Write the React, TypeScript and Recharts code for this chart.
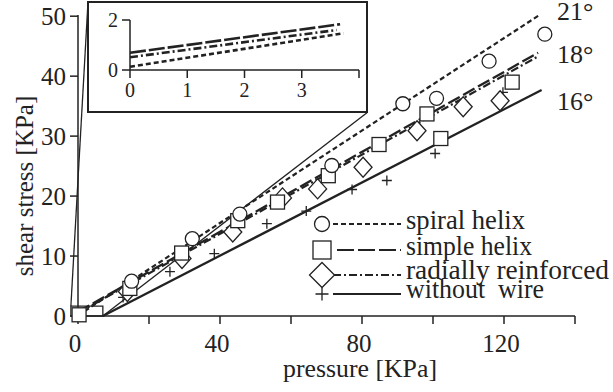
import {
  ComposedChart,
  Line,
  Scatter,
  XAxis,
  YAxis,
  ReferenceLine,
  ReferenceArea,
} from 'recharts';

const INK = '#222';
const FONT = '"Liberation Serif", "Times New Roman", serif';

// measured points
const spiralX = [15.1, 32.2, 45.6, 71.5, 91.5, 101.0, 115.8, 131.5];
const spiralY = [5.8, 12.9, 17.0, 25.1, 35.4, 36.3, 42.5, 47.0];
const simpleX = [0.3, 14.6, 29.2, 45.0, 56.2, 70.5, 84.8, 98.3, 102.2, 122.3];
const simpleY = [0.2, 4.6, 10.5, 15.9, 19.0, 23.4, 28.6, 33.7, 29.6, 39.0];
const radialX = [13.9, 29.3, 43.6, 57.6, 67.5, 80.3, 95.5, 108.5, 118.9];
const radialY = [4.1, 9.6, 14.0, 19.7, 21.2, 24.8, 30.9, 34.9, 35.9];
const plainX = [12.7, 25.9, 38.4, 53.2, 64.3, 77.2, 87.0, 100.6, 119.7];
const plainY = [3.1, 7.4, 10.4, 15.4, 17.5, 21.1, 22.6, 27.1, 37.3];

// fitted lines (end points)
const spiralFitX = [0, 130];
const spiralFitY = [0.1, 50.2];
const simpleFitX = [0, 129.6];
const simpleFitY = [0.7, 43.9];
const radialFitX = [0, 129.3];
const radialFitY = [0.5, 43.2];
const plainFitX = [7, 130.6];
const plainFitY = [0, 37.7];

// inset (zoom near origin)
const insetSpiralX = [0, 3.73];
const insetSpiralY = [0.13, 1.47];
const insetSimpleX = [0, 3.67];
const insetSimpleY = [0.69, 1.83];
const insetRadialX = [0, 3.61];
const insetRadialY = [0.51, 1.6];

const xTicks = [0, 20, 40, 60, 80, 100, 120, 140];
const yTicks = [0, 10, 20, 30, 40, 50];
const insetXTicks = [0, 1, 2, 3, 4];
const insetYTicks = [0, 1, 2];

const angleLabels = ['21°', '18°', '16°'];
const legendNames = ['spiral helix', 'simple helix', 'radially reinforced', 'without  wire'];

const pts = (xs: number[], ys: number[]) => xs.map((x, i) => ({ x, y: ys[i] }));

const DASH = {
  spiral: '5 3',
  simple: '13 4',
  radial: '8 3 2 3',
  plain: undefined as string | undefined,
};

const circleShape = (p: any) => (
  <circle cx={p.cx} cy={p.cy} r={7} fill="#fff" stroke={INK} strokeWidth={1.3} />
);
const squareShape = (p: any) => (
  <rect x={p.cx - 7} y={p.cy - 7} width={14} height={14} fill="#fff" stroke={INK} strokeWidth={1.3} />
);
const diamondShape = (p: any) => (
  <path
    d={`M${p.cx},${p.cy - 10}L${p.cx + 9},${p.cy}L${p.cx},${p.cy + 10}L${p.cx - 9},${p.cy}Z`}
    fill="#fff"
    stroke={INK}
    strokeWidth={1.3}
  />
);
const plusShape = (p: any) => (
  <path
    d={`M${p.cx - 5},${p.cy}H${p.cx + 5}M${p.cx},${p.cy - 5}V${p.cy + 5}`}
    stroke={INK}
    strokeWidth={1.3}
  />
);

const axisProps = {
  stroke: INK,
  axisLine: { stroke: INK, strokeWidth: 1.5 },
  tickLine: { stroke: INK, strokeWidth: 1.5 },
};

function Inset() {
  const tick = { fontSize: 20, fontFamily: FONT, fill: INK };
  return (
    <div
      style={{
        position: 'absolute',
        left: 87,
        top: 1,
        width: 281,
        height: 112,
        border: `2px solid ${INK}`,
        background: '#fff',
        boxSizing: 'border-box',
      }}
    >
      <ComposedChart width={277} height={108} margin={{ top: 17, right: 7, bottom: 0, left: 0 }}>
        <XAxis
          type="number"
          dataKey="x"
          domain={[0, 4]}
          ticks={insetXTicks}
          tickFormatter={(v: number) => (v < 4 ? String(v) : '')}
          height={41}
          tickSize={8}
          tickMargin={5}
          tick={tick}
          {...axisProps}
        />
        <YAxis
          type="number"
          dataKey="y"
          domain={[0, 2]}
          ticks={insetYTicks}
          width={41}
          tickSize={8}
          tickMargin={4}
          tick={tick}
          {...axisProps}
        />
        <Line data={pts(insetSimpleX, insetSimpleY)} dataKey="y" type="linear" stroke={INK} strokeWidth={2.6} strokeDasharray="16 3" dot={false} isAnimationActive={false} />
        <Line data={pts(insetRadialX, insetRadialY)} dataKey="y" type="linear" stroke={INK} strokeWidth={2.6} strokeDasharray={DASH.radial} dot={false} isAnimationActive={false} />
        <Line data={pts(insetSpiralX, insetSpiralY)} dataKey="y" type="linear" stroke={INK} strokeWidth={2.6} strokeDasharray={DASH.spiral} dot={false} isAnimationActive={false} />
      </ComposedChart>
    </div>
  );
}

function Overlay() {
  const rows = [224, 250, 275, 294];
  const baselines = [229, 254.5, 279, 298];
  const widths = [119, 126, 203, 138];
  const markers = [
    <circle key="c" cx={322} cy={rows[0]} r={7.5} fill="#fff" stroke={INK} strokeWidth={1.3} />,
    <rect key="s" x={313} y={rows[1] - 9} width={18} height={18} fill="#fff" stroke={INK} strokeWidth={1.3} />,
    <path key="d" d={`M322,${rows[2] - 12.5}L334.5,${rows[2]}L322,${rows[2] + 12.5}L309.5,${rows[2]}Z`} fill="#fff" stroke={INK} strokeWidth={1.3} />,
    <path key="p" d={`M315.5,${rows[3]}H328.5M322,${rows[3] - 6.5}V${rows[3] + 6.5}`} stroke={INK} strokeWidth={1.3} />,
  ];
  const dashes = [DASH.spiral, '17 4', DASH.radial, DASH.plain];
  return (
    <svg width={613} height={392} style={{ position: 'absolute', left: 0, top: 0, pointerEvents: 'none' }}>
      <g fontFamily={FONT} fontSize={25} fill={INK}>
        <text x={33} y={186} textAnchor="middle" transform="rotate(-90 33 186)">
          shear stress [KPa]
        </text>
        <text x={283} y={377} textLength={154} lengthAdjust="spacingAndGlyphs">
          pressure [KPa]
        </text>
        {angleLabels.map((t, i) => (
          <text key={t} x={557} y={[20, 63, 110][i]} fontSize={26}>
            {t}
          </text>
        ))}
        {legendNames.map((name, i) => (
          <g key={name}>
            <line x1={i === 1 ? 337 : 333} x2={401} y1={rows[i]} y2={rows[i]} stroke={INK} strokeWidth={2} strokeDasharray={dashes[i]} />
            {markers[i]}
            <text
              x={406}
              y={baselines[i]}
              fontSize={27}
              textLength={widths[i]}
              lengthAdjust="spacingAndGlyphs"
              style={{ whiteSpace: 'pre' }}
            >
              {name}
            </text>
          </g>
        ))}
      </g>
    </svg>
  );
}

export default function App() {
  const tick = { fontSize: 25, fontFamily: FONT, fill: INK };
  return (
    <div style={{ position: 'absolute', left: 0, top: 0, width: 613, height: 392, background: '#fff' }}>
      <ComposedChart width={613} height={392} margin={{ top: 15, right: 38, bottom: 0, left: 0 }}>
        <XAxis
          type="number"
          dataKey="x"
          domain={[0, 140]}
          ticks={xTicks}
          tickFormatter={(v: number) => (v % 40 === 0 ? String(v) : '')}
          height={76}
          tickSize={8}
          tickMargin={10}
          tick={{ ...tick, dx: -3 }}
          {...axisProps}
        />
        <YAxis
          type="number"
          dataKey="y"
          domain={[0, 50]}
          ticks={yTicks}
          width={78}
          tickSize={8}
          tickMargin={4}
          tick={tick}
          {...axisProps}
        />
        <ReferenceArea x1={-2} x2={7} y1={0} y2={1.66} ifOverflow="visible" fill="none" stroke={INK} strokeWidth={1.3} />
        <ReferenceLine segment={[{ x: 2.8, y: 52.2 }, { x: -2, y: 1.66 }]} ifOverflow="visible" stroke={INK} strokeWidth={1.3} />
        <ReferenceLine segment={[{ x: 81.4, y: 33.9 }, { x: 7, y: 0 }]} ifOverflow="visible" stroke={INK} strokeWidth={1.3} />

        <Line data={pts(spiralFitX, spiralFitY)} dataKey="y" type="linear" stroke={INK} strokeWidth={2.2} strokeDasharray={DASH.spiral} dot={false} isAnimationActive={false} />
        <Line data={pts(simpleFitX, simpleFitY)} dataKey="y" type="linear" stroke={INK} strokeWidth={2.3} strokeDasharray={DASH.simple} dot={false} isAnimationActive={false} />
        <Line data={pts(radialFitX, radialFitY)} dataKey="y" type="linear" stroke={INK} strokeWidth={2.2} strokeDasharray={DASH.radial} dot={false} isAnimationActive={false} />
        <Line data={pts(plainFitX, plainFitY)} dataKey="y" type="linear" stroke={INK} strokeWidth={2.3} dot={false} isAnimationActive={false} />

        <Scatter data={pts(plainX, plainY)} dataKey="y" shape={plusShape} isAnimationActive={false} />
        <Scatter data={pts(radialX, radialY)} dataKey="y" shape={diamondShape} isAnimationActive={false} />
        <Scatter data={pts(simpleX, simpleY)} dataKey="y" shape={squareShape} isAnimationActive={false} />
        <Scatter data={pts(spiralX, spiralY)} dataKey="y" shape={circleShape} isAnimationActive={false} />
      </ComposedChart>
      <Overlay />
      <Inset />
    </div>
  );
}
